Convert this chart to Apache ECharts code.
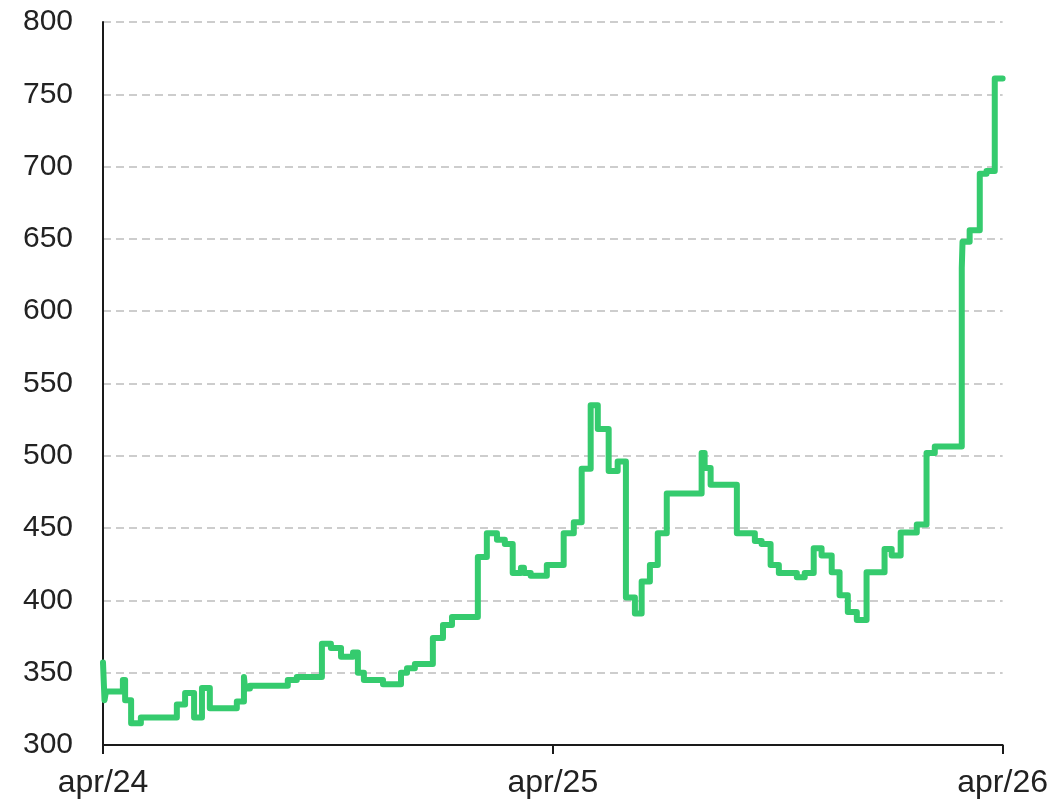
<!DOCTYPE html>
<html>
<head>
    <meta charset="UTF-8">
    <title>price</title>
    <script src="https://cdn.jsdelivr.net/npm/echarts@6/dist/echarts.min.js"></script>
</head>
<body style="margin:0;background:#fff;">
<div id="main" style="width:1051px;height:800px;"></div>
<script>
    // x = months since apr/24, value = level from that point on
    var months = [0, 0.04, 0.08, 0.53, 0.59, 0.75, 1.01, 1.97, 2.19, 2.43, 2.64, 2.85, 3.57, 3.76, 3.79, 3.92,
        4.93, 5.17, 5.84, 6.08, 6.35, 6.67, 6.80, 6.96, 7.47, 7.95, 8.11, 8.32, 8.80, 9.07, 9.31,
        10.00, 10.24, 10.51, 10.72, 10.93, 11.15, 11.23, 11.41, 11.84, 12.29, 12.56, 12.77, 13.01, 13.20,
        13.49, 13.73, 13.95, 14.19, 14.37, 14.59, 14.80, 15.04, 15.97, 16.05, 16.21, 16.91, 17.39, 17.57,
        17.81, 18.03, 18.51, 18.72, 18.96, 19.17, 19.44, 19.65, 19.87, 20.11, 20.37, 20.85, 21.04, 21.28,
        21.71, 21.97, 22.19, 22.91, 22.93, 23.12, 23.39, 23.57, 23.79, 24];
    var values = [357, 331, 337, 345, 331, 315, 319, 328, 336, 319, 339.5, 325.5, 330, 347, 339, 341,
        345, 347, 370, 367, 361, 364, 350, 345, 342, 350, 353, 356, 374, 383, 388.5,
        430, 446.5, 442, 439, 419, 422.5, 419, 417, 424.5, 446.5, 454, 491, 535, 518.5,
        489.5, 496, 402, 391, 413, 424.5, 446.5, 474, 502, 491.5, 480, 446.5, 441, 439,
        424.5, 419, 416, 419, 436, 431, 419.5, 403.5, 392, 386.5, 419.5, 435.5, 431, 447,
        452.5, 502, 506.5, 630, 648, 656, 695, 697, 761, 761];
    var tickLabels = {0: 'apr/24', 12: 'apr/25', 24: 'apr/26'};

    var data = months.map(function (m, i) { return [m, values[i]]; });

    var chart = echarts.init(document.getElementById('main'), null, {renderer: 'canvas'});
    chart.setOption({
        animation: false,
        grid: {left: 103, right: 48, top: 22, bottom: 55},
        xAxis: {
            type: 'value',
            min: 0, max: 24, interval: 12,
            axisLine: {show: true, lineStyle: {color: '#1a1a1a', width: 2}},
            axisTick: {show: true, length: 9, lineStyle: {color: '#1a1a1a', width: 2}},
            splitLine: {show: false},
            axisLabel: {
                fontSize: 32, color: '#222', fontFamily: 'Liberation Sans', margin: 22,
                formatter: function (v) { return tickLabels[v] || ''; }
            }
        },
        yAxis: {
            type: 'value',
            min: 300, max: 800, interval: 50,
            axisLine: {show: true, lineStyle: {color: '#1a1a1a', width: 2}},
            axisTick: {show: false},
            splitLine: {show: true, lineStyle: {color: '#bdbdbd', width: 1.5, type: [8, 5]}},
            axisLabel: {fontSize: 30, color: '#222', fontFamily: 'Liberation Sans', margin: 30}
        },
        series: [{
            type: 'line',
            step: 'end',
            data: data,
            showSymbol: false,
            lineStyle: {color: '#35cb6e', width: 6, cap: 'round', join: 'round'}
        }]
    });
</script>
</body>
</html>
